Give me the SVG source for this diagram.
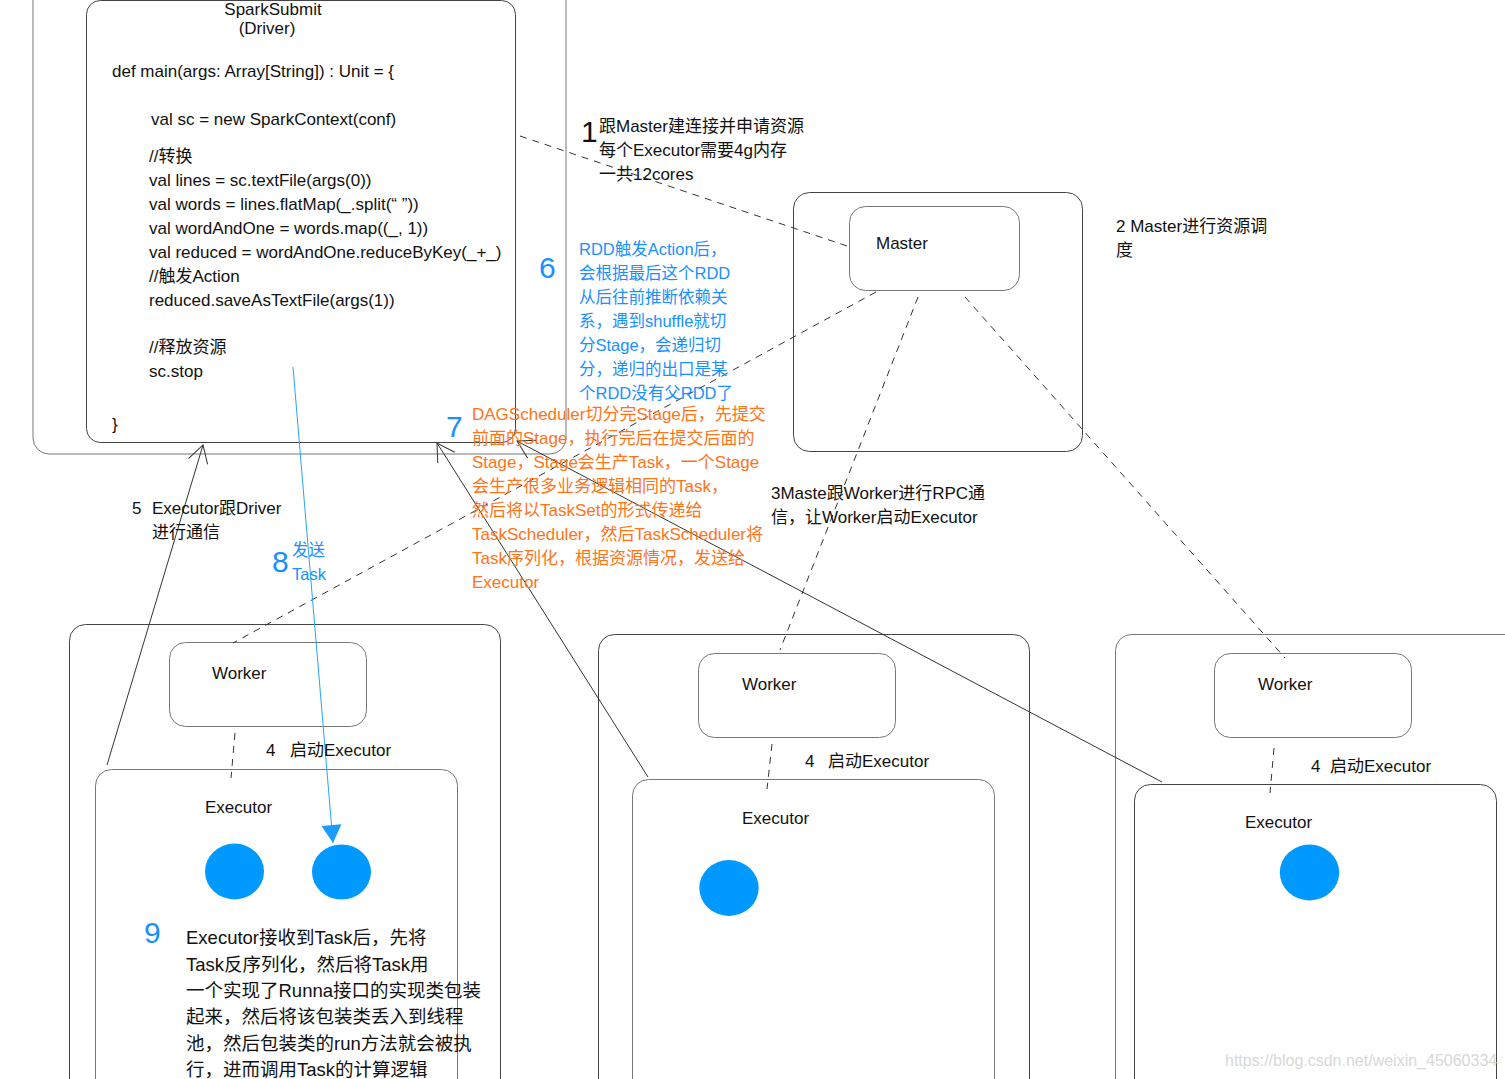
<svg xmlns="http://www.w3.org/2000/svg" width="1505" height="1079" viewBox="0 0 1505 1079">
<style>
  text { font-family: "Liberation Sans", "Noto Sans CJK SC", sans-serif; fill: #111; font-size: 17px; }
  .box { fill: none; stroke: #444; stroke-width: 1; }
  .gbox { fill: none; stroke: #777; stroke-width: 1; }
  .dash { fill: none; stroke: #333; stroke-width: 1; stroke-dasharray: 7 6; }
  .solid { fill: none; stroke: #333; stroke-width: 1; }
  .blue { fill: #1a90ff; font-size: 16.5px; }
  .num { fill: #1a90ff; font-size: 30px; }
  .orange { fill: #ff7417; font-size: 17px; }
  .dot { fill: #0099ff; }
  .mark { fill: #d8d8d8; font-size: 16px; }
</style>
<defs>
  <marker id="open" markerUnits="userSpaceOnUse" markerWidth="40" markerHeight="40" viewBox="-20 -20 40 40" refX="0" refY="0" orient="auto">
    <path d="M -17.3,-10 L 0,0 L -17.3,10" fill="none" stroke="#333" stroke-width="1"/>
  </marker>
  <marker id="tri" markerUnits="userSpaceOnUse" markerWidth="40" markerHeight="40" viewBox="-20 -20 40 40" refX="0" refY="0" orient="auto">
    <path d="M -18,-10 L 0,0 L -18,10 Z" fill="#1a9cff"/>
  </marker>
</defs>
<rect width="1505" height="1079" fill="#fff"/>

<g id="driver-outer">
  <rect class="gbox" x="33" y="-40" width="533" height="494" rx="16"/>
</g>
<g id="driver">
  <rect class="box" x="86.5" y="0.5" width="429" height="442" rx="14"/>
  <text x="273" y="15" text-anchor="middle">SparkSubmit</text>
  <text x="267" y="34" text-anchor="middle">(Driver)</text>
  <text x="112" y="77">def main(args: Array[String]) : Unit = {</text>
  <text x="151" y="125">val sc = new SparkContext(conf)</text>
  <text x="149" y="162">//转换</text>
  <text x="149" y="186">val lines = sc.textFile(args(0))</text>
  <text x="149" y="210">val words = lines.flatMap(_.split(“ ”))</text>
  <text x="149" y="234">val wordAndOne = words.map((_, 1))</text>
  <text x="149" y="258">val reduced = wordAndOne.reduceByKey(_+_)</text>
  <text x="149" y="282">//触发Action</text>
  <text x="149" y="306">reduced.saveAsTextFile(args(1))</text>
  <text x="149" y="353">//释放资源</text>
  <text x="149" y="377">sc.stop</text>
  <text x="112" y="430">}</text>
</g>

<g id="master-outer">
  <rect class="box" x="793.5" y="192.5" width="289" height="259" rx="16"/>
</g>
<g id="master">
  <rect class="gbox" x="849.5" y="206.5" width="170" height="84" rx="16"/>
  <text x="876" y="249">Master</text>
</g>

<g id="worker1-outer">
  <rect class="box" x="69.5" y="624.5" width="431" height="500" rx="16"/>
</g>
<g id="worker1">
  <rect class="gbox" x="169.5" y="642.5" width="197" height="84" rx="16"/>
  <text x="212" y="679">Worker</text>
</g>
<g id="executor1">
  <rect class="gbox" x="95.5" y="769.5" width="362" height="350" rx="16"/>
  <text x="205" y="813">Executor</text>
  <ellipse class="dot" cx="234.5" cy="871.5" rx="29.5" ry="28"/>
  <ellipse class="dot" cx="341.5" cy="872" rx="29.5" ry="27.5"/>
</g>

<g id="worker2-outer">
  <rect class="box" x="598.5" y="634.5" width="431" height="500" rx="16"/>
</g>
<g id="worker2">
  <rect class="gbox" x="698.5" y="653.5" width="197" height="84" rx="16"/>
  <text x="742" y="690">Worker</text>
</g>
<g id="executor2">
  <rect class="gbox" x="632.5" y="779.5" width="362" height="350" rx="16"/>
  <text x="742" y="824">Executor</text>
  <ellipse class="dot" cx="729" cy="888" rx="29.7" ry="28"/>
</g>

<g id="worker3-outer">
  <rect class="gbox" x="1115.5" y="634.5" width="500" height="500" rx="16"/>
</g>
<g id="worker3">
  <rect class="gbox" x="1214.5" y="653.5" width="197" height="84" rx="16"/>
  <text x="1258" y="690">Worker</text>
</g>
<g id="executor3">
  <rect class="box" x="1134.5" y="784.5" width="362" height="350" rx="16"/>
  <text x="1245" y="828">Executor</text>
  <ellipse class="dot" cx="1309.5" cy="872.5" rx="29.7" ry="28"/>
</g>

<g id="connectors">
  <line class="dash" x1="520" y1="136" x2="847" y2="246"/>
  <line class="dash" x1="876" y1="292" x2="233" y2="643"/>
  <line class="dash" x1="918" y1="297" x2="780" y2="650"/>
  <line class="dash" x1="965" y1="297" x2="1285" y2="658"/>
  <line class="dash" x1="235" y1="733" x2="231" y2="778"/>
  <line class="dash" x1="772" y1="744" x2="767" y2="789"/>
  <line class="dash" x1="1274" y1="748" x2="1270" y2="793"/>
  <line class="solid" x1="107" y1="765" x2="203" y2="445" marker-end="url(#open)"/>
  <line class="solid" x1="648" y1="777" x2="437" y2="443" marker-end="url(#open)"/>
  <line class="solid" x1="1162" y1="782" x2="517" y2="441" marker-end="url(#open)"/>
  <line x1="293" y1="367" x2="333" y2="843" stroke="#2aa3f7" stroke-width="1" marker-end="url(#tri)"/>
</g>

<g id="labels">
  <text x="581" y="142" style="font-size:30px">1</text>
  <text x="599" y="132">跟Master建连接并申请资源</text>
  <text x="599" y="156">每个Executor需要4g内存</text>
  <text x="599" y="180">一共12cores</text>

  <text x="1116" y="232">2 Master进行资源调</text>
  <text x="1116" y="256">度</text>

  <text x="771" y="499">3Maste跟Worker进行RPC通</text>
  <text x="771" y="523">信，让Worker启动Executor</text>

  <text x="266" y="756">4</text>
  <text x="290" y="756">启动Executor</text>
  <text x="805" y="767">4</text>
  <text x="828" y="767">启动Executor</text>
  <text x="1311" y="772">4</text>
  <text x="1330" y="772">启动Executor</text>

  <text x="132" y="514">5</text>
  <text x="152" y="514">Executor跟Driver</text>
  <text x="152" y="538">进行通信</text>

  <text class="num" x="539" y="278">6</text>
  <text class="blue" x="579" y="255">RDD触发Action后，</text>
  <text class="blue" x="579" y="279">会根据最后这个RDD</text>
  <text class="blue" x="579" y="303">从后往前推断依赖关</text>
  <text class="blue" x="579" y="327">系，遇到shuffle就切</text>
  <text class="blue" x="579" y="351">分Stage，会递归切</text>
  <text class="blue" x="579" y="375">分，递归的出口是某</text>
  <text class="blue" x="579" y="399">个RDD没有父RDD了</text>

  <text class="num" x="446" y="437">7</text>
  <text class="orange" x="472" y="420">DAGScheduler切分完Stage后，先提交</text>
  <text class="orange" x="472" y="444">前面的Stage，执行完后在提交后面的</text>
  <text class="orange" x="472" y="468">Stage，Stage会生产Task，一个Stage</text>
  <text class="orange" x="472" y="492">会生产很多业务逻辑相同的Task，</text>
  <text class="orange" x="472" y="516">然后将以TaskSet的形式传递给</text>
  <text class="orange" x="472" y="540">TaskScheduler，然后TaskScheduler将</text>
  <text class="orange" x="472" y="564">Task序列化，根据资源情况，发送给</text>
  <text class="orange" x="472" y="588">Executor</text>

  <text class="num" x="272" y="572">8</text>
  <text class="blue" x="292" y="556">发送</text>
  <text class="blue" x="292" y="580">Task</text>

  <text class="num" x="144" y="943">9</text>
  <text x="186" y="944" style="font-size:18.5px">Executor接收到Task后，先将</text>
  <text x="186" y="971" style="font-size:18.5px">Task反序列化，然后将Task用</text>
  <text x="186" y="997" style="font-size:18.5px">一个实现了Runna接口的实现类包装</text>
  <text x="186" y="1023" style="font-size:18.5px">起来，然后将该包装类丢入到线程</text>
  <text x="186" y="1050" style="font-size:18.5px">池，然后包装类的run方法就会被执</text>
  <text x="186" y="1076" style="font-size:18.5px">行，进而调用Task的计算逻辑</text>

  <text class="mark" x="1225" y="1066">https://blog.csdn.net/weixin_45060334</text>
</g>
</svg>
